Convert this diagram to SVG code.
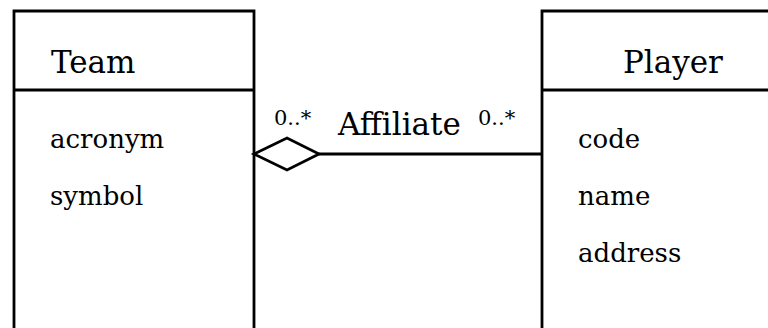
<svg xmlns="http://www.w3.org/2000/svg" width="768" height="328" viewBox="0 0 768 328">
<style>
.ln{fill:none;stroke:#000;stroke-width:2.8}
.t{font-family:"DejaVu Serif","Liberation Serif",serif;fill:#000}
.title{font-size:31px}
.attr{font-size:26px}
.mult{font-size:21px}
</style>
<rect width="768" height="328" fill="#fff"/>
<g id="team">
<path class="ln" d="M14,330 V11 H254 V330"/>
<line class="ln" x1="14" y1="90" x2="254" y2="90"/>
<text class="t title" x="51" y="73">Team</text>
<text class="t attr" x="50" y="148">acronym</text>
<text class="t attr" x="50" y="205">symbol</text>
</g>
<g id="player">
<path class="ln" d="M770,11 H542 V330"/>
<line class="ln" x1="542" y1="90" x2="770" y2="90"/>
<text class="t title" x="623" y="73">Player</text>
<text class="t attr" x="578" y="148">code</text>
<text class="t attr" x="578" y="205">name</text>
<text class="t attr" x="578" y="262">address</text>
</g>
<g id="connectors">
<polygon class="ln" points="254,154 287,138 319,154 287,170" fill="#fff"/>
<line class="ln" x1="319" y1="154" x2="542" y2="154"/>
<text class="t mult" x="274" y="125">0..*</text>
<text class="t title" x="338" y="135" font-size="32">Affiliate</text>
<text class="t mult" x="478" y="125">0..*</text>
</g>
</svg>
